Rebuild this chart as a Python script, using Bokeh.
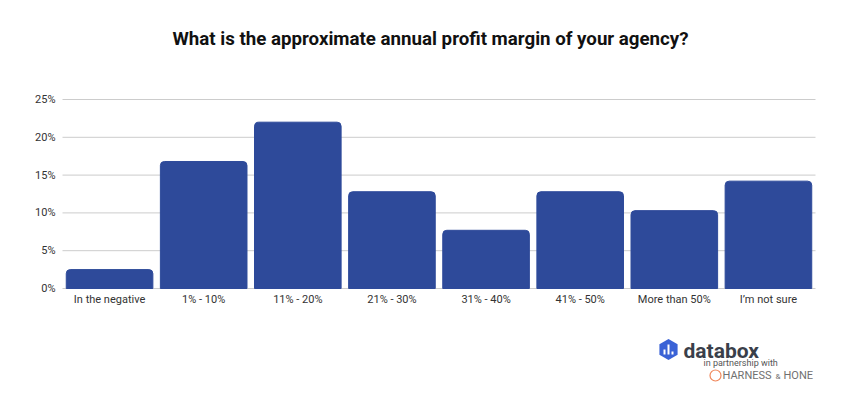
from bokeh.plotting import figure
from bokeh.models import ColumnDataSource, Label, Range1d
from bokeh.core.properties import value
from bokeh.embed import file_html
from bokeh.resources import INLINE

categories = ["In the negative", "1% - 10%", "11% - 20%", "21% - 30%", "31% - 40%",
              "41% - 50%", "More than 50%", "I\u2019m not sure"]
values = [2.5, 16.8, 22.0, 12.8, 7.7, 12.8, 10.3, 14.2]
y_ticks = [0, 5, 10, 15, 20, 25]
y_tick_labels = ["0%", "5%", "10%", "15%", "20%", "25%"]
title_text = "What is the approximate annual profit margin of your agency?"

W, H = 850, 400
left, right, top, bottom = 62, 35, 99, 112
n = len(categories)
ymax = 25
px_per_x = (W - left - right) / n
px_per_y = (H - top - bottom) / ymax

p = figure(width=W, height=H, output_backend="svg", toolbar_location=None,
           x_range=Range1d(-left / px_per_x, n + right / px_per_x),
           y_range=Range1d(-bottom / px_per_y, ymax + top / px_per_y),
           min_border=0, min_border_left=0, min_border_right=0,
           min_border_top=0, min_border_bottom=0)
p.axis.visible = False
p.grid.visible = False
p.outline_line_color = None
p.background_fill_color = "white"
p.border_fill_color = "white"

# gridlines
p.segment(x0=[0] * len(y_ticks), x1=[n] * len(y_ticks), y0=y_ticks, y1=y_ticks,
          line_color="#cccccc", line_width=1)

# bars
xs = [i + 0.5 for i in range(n)]
src = ColumnDataSource(dict(x=xs, val=values, cat=categories, zero=[0] * n))
p.vbar(x="x", top="val", width=0.92, source=src, color="#2E4A9A",
       border_radius=(4, 4, 0, 0))

# y tick labels
p.text(x=[0] * len(y_ticks), y=y_ticks, text=y_tick_labels, x_offset=-7,
       text_align="right", text_baseline="middle", text_font=value("Roboto"),
       text_font_size="11px", text_color="#333333")

# category labels
p.text(x="x", y="zero", text="cat", source=src, y_offset=4,
       text_align="center", text_baseline="top", text_font=value("Roboto"),
       text_font_size="11px", text_color="#333333")

# title
p.add_layout(Label(x=430, y=H - 38, x_units="screen", y_units="screen", text=title_text,
                   text_font="Roboto", text_font_size="18.7px", text_font_style="bold",
                   text_color="#111111", text_align="center", text_baseline="middle"))

# logo
def dx(px):
    return (px - left) / px_per_x

def dy(py):
    return (H - bottom - py) / px_per_y

p.scatter(x=[dx(668)], y=[dy(349)], marker="hex", size=21, angle=1.5708,
          fill_color="#3a62d6", line_color=None)
p.segment(x0=[dx(664), dx(668), dx(672)], x1=[dx(664), dx(668), dx(672)],
          y0=[dy(354)] * 3, y1=[dy(349), dy(344), dy(351)],
          line_color="white", line_width=2)
p.scatter(x=[dx(715)], y=[dy(375)], marker="circle", size=11,
          fill_color=None, line_color="#f0875a", line_width=1.2)

logo = [
    ("databox", 683, 350, "21px", "bold", "#3a3f4a"),
    ("in partnership with", 703, 362, "9px", "normal", "#555555"),
    ("HARNESS", 722, 375, "11px", "normal", "#707070"),
    ("&", 775, 376, "8px", "normal", "#707070"),
    ("HONE", 783, 375, "11px", "normal", "#707070"),
]
for txt, x, y, fs, st, col in logo:
    p.add_layout(Label(x=x, y=H - y, x_units="screen", y_units="screen", text=txt,
                       text_font="Roboto", text_font_size=fs, text_font_style=st,
                       text_color=col, text_baseline="middle"))

open("out.html", "w").write(file_html(p, INLINE))
